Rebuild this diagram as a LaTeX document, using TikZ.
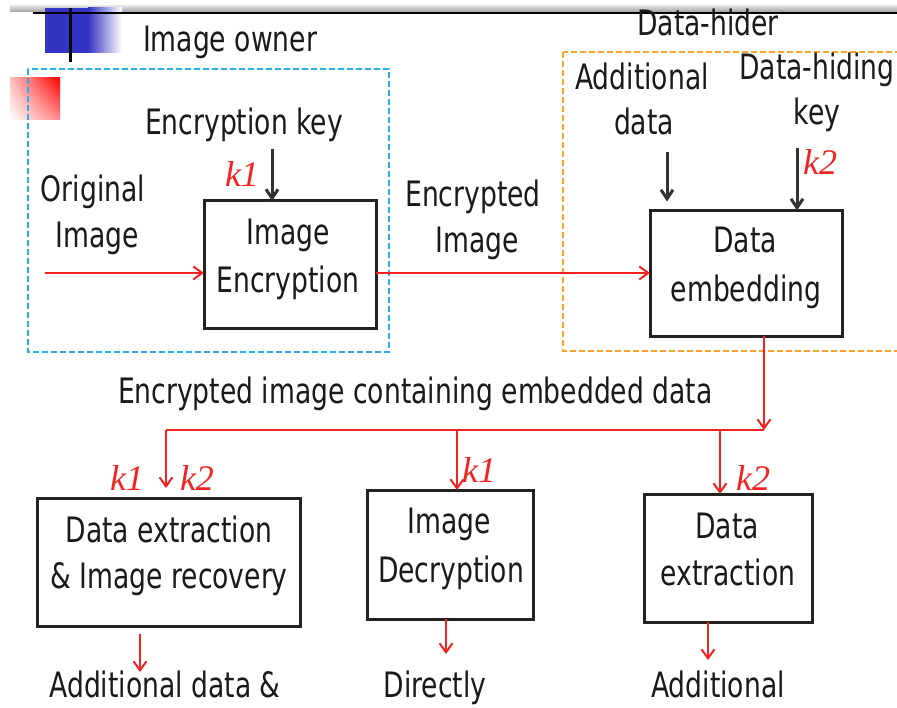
\documentclass[tikz,border=0pt]{standalone}
\usepackage{fontspec}
\setmainfont[FakeStretch=0.76]{DejaVu Sans}
\newfontfamily\kfont{Liberation Serif}
\usetikzlibrary{arrows.meta,shadings}
\definecolor{ownerblue}{HTML}{29B0EC}
\definecolor{hiderorange}{HTML}{FFA526}
\definecolor{arrred}{HTML}{F52222}
\definecolor{txt}{HTML}{1A1A1A}
\definecolor{boxgray}{HTML}{222222}
\definecolor{feedgray}{HTML}{333333}
\definecolor{sqblue}{HTML}{3333C4}
\begin{document}
\begin{tikzpicture}[x=1pt,y=-1pt,
  every node/.style={inner sep=0pt, outer sep=0pt, text=txt},
  lbl/.style={font=\fontsize{35}{47}\selectfont, anchor=base},
  proc/.style={draw=boxgray, line width=3pt, inner sep=0pt},
  keylbl/.style={font=\kfont\itshape\fontsize{36}{36}\selectfont, text=arrred},
  flow/.style={draw=arrred, line width=2pt, -{Straight Barb[length=9pt,width=13pt]}},
  flowline/.style={draw=arrred, line width=2pt},
  feed/.style={draw=feedgray, line width=3pt, -{Straight Barb[length=9pt,width=12pt]}},
  ownerzone/.style={draw=ownerblue, line width=2.5pt, dash pattern=on 6pt off 3pt},
  hiderzone/.style={draw=hiderorange, line width=2.5pt, dash pattern=on 6pt off 3pt}]
\useasboundingbox (0,0) rectangle (897,708);
\fill[white] (0,0) rectangle (897,708);

% slide decoration
\shade[top color=gray!25, bottom color=gray!75] (10,6) rectangle (897,12);
\fill[sqblue] (45,8) rectangle (88,53);
\shade[left color=sqblue, right color=white] (88,8) rectangle (122,53);
\draw[black, line width=2.5pt] (33,13) -- (897,13);
\draw[black, line width=3pt] (70,8) -- (70,62);
\shade[upper right=red, upper left=red!25, lower right=red!45, lower left=white] (10,78) rectangle (60,120);

% zones
\draw[ownerzone] (28,69) rectangle (389,352);
\draw[hiderzone] (563,52) rectangle (910,351);

% labels of zones
\node[lbl] (ownerlbl) at (230,52) {Image owner};
\node[lbl] (hiderlbl) at (708,36) {Data-hider};

% process boxes
\node[proc, minimum width=172pt, minimum height=128pt] (enc) at (290,265) {};
\node[proc, minimum width=192pt, minimum height=126pt] (emb) at (746,273.5) {};
\node[proc, minimum width=263pt, minimum height=128pt] (b1) at (168.5,562) {};
\node[proc, minimum width=166pt, minimum height=129pt] (b2) at (450,554.5) {};
\node[proc, minimum width=168pt, minimum height=128pt] (b3) at (728,558) {};

% box texts
\node[lbl] (encA) at (288,245) {Image};
\node[lbl] (encB) at (288,293) {Encryption};
\node[lbl] (embA) at (745,253) {Data};
\node[lbl] (embB) at (746,302) {embedding};
\node[lbl] (b1A) at (169,542) {Data extraction};
\node[lbl] (b1B) at (169,588) {\& Image recovery};
\node[lbl] (b2A) at (449,533) {Image};
\node[lbl] (b2B) at (451,582) {Decryption};
\node[lbl] (b3A) at (727,538) {Data};
\node[lbl] (b3B) at (728,585) {extraction};

% other texts
\node[lbl] (ekey) at (244,135) {Encryption key};
\node[lbl] (orig1) at (93,202) {Original};
\node[lbl] (orig2) at (97,248) {Image};
\node[lbl] (ei1) at (473,207) {Encrypted};
\node[lbl] (ei2) at (477,253) {Image};
\node[lbl] (add1) at (642,90) {Additional};
\node[lbl] (add2) at (644,135) {data};
\node[lbl] (dhk1) at (817,80) {Data-hiding};
\node[lbl] (dhk2) at (817,125) {key};
\node[lbl, anchor=base west] (eicd) at (118,403) {Encrypted image containing embedded data};
\node[lbl] (out1) at (165,697) {Additional data \&};
\node[lbl] (out2) at (435,697) {Directly};
\node[lbl] (out3) at (718,697) {Additional};

% key labels
\node[keylbl] (k1a) at (242,174) {k1};
\node[keylbl] (k2a) at (820,162) {k2};
\node[keylbl] (k1b) at (127,478) {k1};
\node[keylbl] (k2b) at (197,478) {k2};
\node[keylbl] (k1c) at (479,470) {k1};
\node[keylbl] (k2c) at (753,478) {k2};

% coordinates
\coordinate (ekeyS) at (272,149);
\coordinate (addS) at (667,152);
\coordinate (dhkS) at (797,148);
\coordinate (origS) at (45,273);
\coordinate (split) at (764,430);
\coordinate (br1) at (166,430);
\coordinate (br2) at (457,430);
\coordinate (br3) at (720,430);
\coordinate (o1s) at (140,634);
\coordinate (o1) at (140,672);
\coordinate (o2) at (446,654);
\coordinate (o3) at (708,660);

% black input arrows
\draw[feed] (ekeyS) -- (ekeyS |- enc.north);
\draw[feed, shorten >=9pt] (addS) -- (addS |- emb.north);
\draw[feed] (dhkS) -- (dhkS |- emb.north);

% red flow
\draw[flow] (origS) -- (origS -| enc.west);
\draw[flow] (origS -| enc.east) -- (origS -| emb.west);
\draw[flow] (split |- emb.south) -- (split);
\draw[flowline] (split) -- (br1);
\draw[flow, shorten >=10pt] (br1) -- (br1 |- b1.north);
\draw[flow] (br2) -- (br2 |- b2.north);
\draw[flow] (br3) -- (br3 |- b3.north);
\draw[flow] (o1s) -- (o1);
\draw[flow] (b2.south -| o2) -- (o2);
\draw[flow] (b3.south -| o3) -- (o3);
\end{tikzpicture}
\end{document}
